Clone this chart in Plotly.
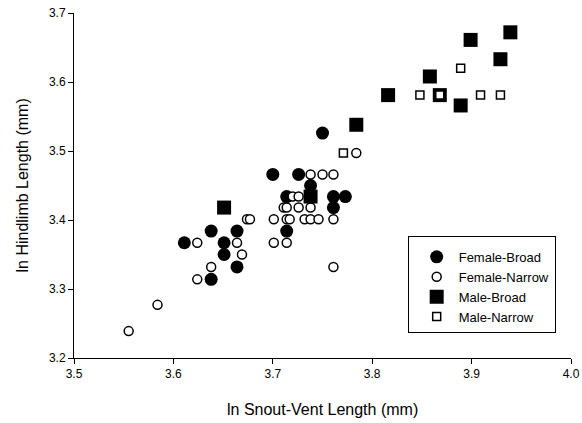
import plotly.graph_objects as go

# ln Snout-Vent Length (x), ln Hindlimb Length (y)
fb_x = [3.611, 3.638, 3.638, 3.651, 3.651, 3.664, 3.664, 3.700, 3.714,
        3.714, 3.726, 3.738, 3.750, 3.761, 3.773, 3.761]
fb_y = [3.367, 3.314, 3.384, 3.367, 3.350, 3.384, 3.332, 3.466, 3.384,
        3.434, 3.466, 3.450, 3.526, 3.434, 3.434, 3.418]

fn_x = [3.555, 3.584, 3.624, 3.624, 3.638, 3.664, 3.669, 3.674, 3.677, 3.701, 3.701,
        3.714, 3.714, 3.717, 3.711, 3.714, 3.726, 3.738, 3.720, 3.726, 3.732, 3.738,
        3.746, 3.761, 3.738, 3.750, 3.761, 3.784, 3.761]
fn_y = [3.239, 3.277, 3.367, 3.314, 3.332, 3.367, 3.350, 3.401, 3.401, 3.401, 3.367,
        3.367, 3.401, 3.401, 3.418, 3.418, 3.418, 3.418, 3.434, 3.434, 3.401, 3.401,
        3.401, 3.401, 3.466, 3.466, 3.466, 3.497, 3.332]

mb_x = [3.651, 3.738, 3.784, 3.816, 3.858, 3.868, 3.889, 3.899, 3.929, 3.939]
mb_y = [3.418, 3.434, 3.538, 3.581, 3.608, 3.581, 3.566, 3.661, 3.633, 3.672]

mn_x = [3.771, 3.848, 3.868, 3.889, 3.909, 3.929]
mn_y = [3.497, 3.581, 3.581, 3.620, 3.581, 3.581]

x_ticks = [3.5, 3.6, 3.7, 3.8, 3.9, 4.0]
y_ticks = [3.2, 3.3, 3.4, 3.5, 3.6, 3.7]

x_title = "ln Snout-Vent Length (mm)"
y_title = "ln Hindlimb Length (mm)"

FONT = "Liberation Sans, Arial, sans-serif"

fig = go.Figure()
fig.add_trace(go.Scatter(x=fb_x, y=fb_y, mode="markers", name="Female-Broad",
                         legendgroup="a", cliponaxis=False,
                         marker=dict(symbol="circle", size=13, color="black",
                                     line=dict(width=0))))
fig.add_trace(go.Scatter(x=fn_x, y=fn_y, mode="markers", name="Female-Narrow",
                         legendgroup="b", cliponaxis=False,
                         marker=dict(symbol="circle", size=9, color="white",
                                     line=dict(width=1.5, color="black"))))
fig.add_trace(go.Scatter(x=mb_x, y=mb_y, mode="markers", name="Male-Broad",
                         legendgroup="c", cliponaxis=False,
                         marker=dict(symbol="square", size=14, color="black",
                                     line=dict(width=0))))
fig.add_trace(go.Scatter(x=mn_x, y=mn_y, mode="markers", name="Male-Narrow",
                         legendgroup="d", cliponaxis=False,
                         marker=dict(symbol="square", size=8, color="white",
                                     line=dict(width=1.5, color="black"))))

fig.update_layout(
    width=582, height=423,
    margin=dict(l=74, r=11, t=13, b=65, autoexpand=False),
    paper_bgcolor="white", plot_bgcolor="white",
    font=dict(family=FONT, color="black", size=12),
    showlegend=True,
    legend=dict(x=0.6714, y=0.3545, xanchor="left", yanchor="top",
                bgcolor="white", bordercolor="black", borderwidth=1,
                font=dict(size=13, family=FONT), tracegroupgap=0,
                indentation=6, itemwidth=34,
                title=dict(text=" ", font=dict(size=4))),
    xaxis=dict(range=[3.5, 4.0], tickvals=x_ticks,
               ticktext=[f"{v:.1f}" for v in x_ticks],
               showgrid=False, zeroline=False, showline=True, automargin=False,
               linecolor="black", linewidth=1, ticks="outside", ticklen=5,
               tickcolor="black", tickfont=dict(size=12)),
    yaxis=dict(range=[3.2, 3.7], tickvals=y_ticks,
               ticktext=[f"{v:.1f}" for v in y_ticks],
               showgrid=False, zeroline=False, showline=True, automargin=False,
               linecolor="black", linewidth=1, ticks="outside", ticklen=5,
               tickcolor="black", tickfont=dict(size=12)),
    annotations=[
        dict(text=x_title, xref="paper", yref="paper", x=0.5, y=-0.1507,
             xanchor="center", yanchor="middle", showarrow=False,
             font=dict(size=16, family=FONT)),
        dict(text=y_title, xref="paper", yref="paper", x=-0.1046, y=0.5,
             xanchor="center", yanchor="middle", showarrow=False, textangle=-90,
             font=dict(size=16, family=FONT)),
    ],
)

fig.write_html("out.html", config={"displayModeBar": False},
               post_script="document.body.style.margin='0';document.body.style.padding='0';")
